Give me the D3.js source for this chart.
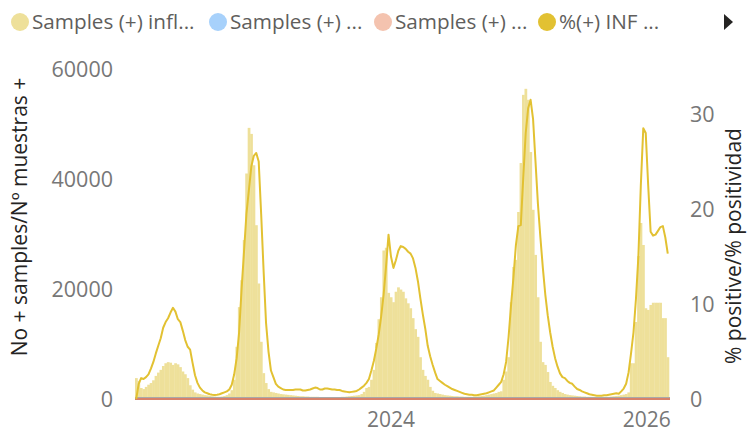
<!DOCTYPE html>
<html>
<head>
<meta charset="utf-8">
<script src="https://cdn.jsdelivr.net/npm/d3@7"></script>
<style>
  body { margin: 0; background: #fff; }
  svg text { font-family: "Open Sans", "Noto Sans", sans-serif; }
</style>
</head>
<body>
<div id="chartContainer"></div>
<script>
var width = 747;
var height = 429;

// weekly data, first week starts Mon 3 Jan 2022
var firstWeek = "2022-01-03";

// Samples (+) influenza, weekly count
var samplesInfl = [
  3800, 3300, 2000, 1800, 2200, 2600, 2900, 3400, 4200, 4800,
  5300, 6000, 6500, 6700, 6600, 6200, 6500, 6300, 5800, 5000,
  4500, 3800, 2500, 1700, 1200, 1000, 900, 800, 700, 650,
  550, 500, 450, 400, 400, 450, 550, 700, 1000, 1600,
  3500, 9500, 16700, 21600, 28900, 41000, 49300, 48200, 42500, 31600,
  21000, 10400, 4700, 2900, 1800, 1300, 1200, 1100, 1000, 900,
  850, 800, 750, 700, 650, 600, 550, 500, 500, 450,
  450, 400, 400, 400, 400, 350, 350, 350, 350, 300,
  300, 300, 350, 350, 400, 400, 450, 500, 550, 600,
  650, 700, 900, 1300, 2000, 2200, 3500, 5300, 10200, 14500,
  18500, 27000, 27500, 19300, 18500, 17600, 19500, 20300, 19900, 19500,
  18300, 17400, 16500, 14700, 12700, 11300, 7600, 5300, 4200, 3500,
  2200, 1500, 1100, 1000, 900, 800, 700, 650, 600, 550,
  500, 500, 450, 450, 400, 400, 400, 400, 450, 450,
  500, 550, 600, 700, 800, 900, 1000, 1100, 1300, 1400,
  3500, 5000, 7600, 17600, 24000, 25300, 34000, 42900, 55300, 56400,
  54400, 44900, 34400, 26200, 18500, 10400, 6700, 6200, 4900, 3100,
  2400, 2000, 1600, 1300, 1100, 900, 800, 700, 650, 600,
  550, 500, 450, 450, 400, 400, 400, 350, 350, 350,
  350, 400, 400, 400, 450, 500, 550, 600, 700, 800,
  900, 1200, 6500, 6500, 14000, 26000, 32000, 28000, 16500, 16200,
  17100, 17500, 17500, 17500, 17500, 14700, 14700, 7600
];

// %(+) INF, weekly positivity
var pctInf = [
  0, 1.6, 2.2, 2.1, 2.3, 2.6, 3.2, 3.9, 4.8, 5.6,
  6.4, 7.5, 8.1, 8.5, 9.1, 9.6, 9.2, 8.4, 8.1, 7.2,
  6.2, 5.5, 5.2, 3.8, 2.5, 1.7, 1.2, 0.9, 0.7, 0.6,
  0.5, 0.45, 0.42, 0.45, 0.5, 0.6, 0.7, 0.8, 1.0, 1.5,
  2.6, 4.3, 7.0, 11.5, 15.5, 19.5, 22.0, 24.5, 25.6, 25.9,
  25.0, 19.5, 13.5, 8.0, 5.0, 3.0, 2.3, 1.6, 1.3, 1.15,
  1.0, 0.95, 0.95, 0.95, 0.95, 1.0, 1.0, 1.0, 0.9, 0.9,
  0.95, 1.0, 1.1, 1.2, 1.15, 1.0, 1.0, 1.1, 1.1, 1.05,
  1.0, 1.0, 0.95, 0.95, 0.85, 0.8, 0.75, 0.7, 0.75, 0.8,
  0.85, 1.0, 1.2, 1.4, 1.7, 2.1, 3.0, 4.0, 5.3, 6.8,
  8.7, 11.0, 14.0, 17.3, 15.0, 13.8, 14.6, 15.6, 16.1, 16.0,
  15.8, 15.5, 15.3, 14.8, 13.8, 12.4, 10.6, 8.9, 7.4, 5.6,
  4.5, 3.6, 2.8, 2.1, 1.9, 1.7, 1.5, 1.35, 1.2, 1.05,
  0.95, 0.85, 0.75, 0.65, 0.55, 0.5, 0.45, 0.45, 0.4, 0.4,
  0.45, 0.5, 0.55, 0.6, 0.7, 0.8, 0.9, 1.2, 1.5, 1.8,
  2.6, 3.9, 6.5, 9.8, 12.8, 16.2, 18.2, 18.3, 23.3, 28.0,
  30.6, 31.5, 29.5, 25.0, 20.5, 17.0, 13.8, 11.0, 8.8, 7.0,
  5.5, 4.3, 3.4, 2.7, 2.3, 2.2, 1.9, 1.7, 1.6, 1.3,
  1.05, 0.95, 0.8, 0.7, 0.6, 0.5, 0.45, 0.4, 0.35, 0.35,
  0.35, 0.4, 0.4, 0.45, 0.5, 0.55, 0.6, 0.55, 0.8, 1.1,
  1.6, 2.8, 4.8, 7.0, 10.5, 15.0, 22.5, 28.5, 28.0, 22.5,
  17.6, 17.2, 17.3, 17.7, 18.1, 18.2, 17.0, 15.3
];

var legendNames = ["Samples (+) infl...", "Samples (+) ...", "Samples (+) ...", "%(+) INF ..."];
var legendColors = ["#EEE09A", "#A7D1FB", "#F4C3AF", "#E2C132"];

var leftTicks = [0, 20000, 40000, 60000];
var rightTicks = [0, 10, 20, 30];
var xTickYears = [2024, 2026];

var leftTitle = "No + samples/Nº muestras +";
var rightTitle = "% positive/% positividad";

var margin = {top: 69, bottom: 399, left: 135, right: 669};

var svg = d3.select('#chartContainer')
    .append('svg')
    .attr("width", width)
    .attr("height", height);

// week dates
var start = new Date(firstWeek + "T00:00:00Z");
var weeks = samplesInfl.map(function(d, i) { return d3.utcDay.offset(start, 7 * i); });

var halfWeek = 3.5 * 24 * 3600 * 1000;
var xScale = d3.scaleUtc()
    .domain([new Date(+weeks[0] - halfWeek), new Date(+weeks[weeks.length - 1] + halfWeek)])
    .range([margin.left, margin.right]);

var yLeft = d3.scaleLinear().domain([0, 60000]).range([margin.bottom, margin.top]);
var yRight = d3.scaleLinear().domain([0, 34.74]).range([margin.bottom, margin.top]);

/*** bars ***/
var barW = xScale(d3.utcDay.offset(start, 7)) - xScale(start);
svg.append('g').selectAll('rect')
    .data(samplesInfl)
    .enter().append('rect')
    .attr('x', function(d, i) { return xScale(weeks[i]) - barW / 2; })
    .attr('width', barW + 0.3)
    .attr('y', function(d) { return yLeft(d); })
    .attr('height', function(d) { return yLeft(0) - yLeft(d); })
    .attr('fill', '#EEE09A');

// other two sample series sit on zero -> baseline
svg.append('line')
    .attr('x1', margin.left).attr('x2', margin.right + 1)
    .attr('y1', yLeft(0) - 1.5).attr('y2', yLeft(0) - 1.5)
    .attr('stroke', '#A9A9A9').attr('stroke-width', 1);
svg.append('line')
    .attr('x1', margin.left).attr('x2', margin.right + 1)
    .attr('y1', yLeft(0)).attr('y2', yLeft(0))
    .attr('stroke', '#D8826A').attr('stroke-width', 2);

/*** line ***/
var lineFunc = d3.line()
    .x(function(d, i) { return xScale(weeks[i]); })
    .y(function(d) { return yRight(d); });

svg.append('path')
    .attr('d', lineFunc(pctInf))
    .attr('fill', 'none')
    .attr('stroke', '#E2C132')
    .attr('stroke-width', 2)
    .attr('stroke-linejoin', 'round');

/*** axes ***/
var tickColor = "#777777";

var leftAxis = svg.append('g');
leftAxis.selectAll('text').data(leftTicks).enter().append('text')
    .attr('x', 113)
    .attr('y', function(d) { return yLeft(d); })
    .attr('dy', '0.35em')
    .attr('text-anchor', 'end')
    .attr('font-size', 21.5)
    .attr('fill', tickColor)
    .text(function(d) { return d; });

var rightAxis = svg.append('g');
rightAxis.selectAll('text').data(rightTicks).enter().append('text')
    .attr('x', 690)
    .attr('y', function(d) { return yRight(d); })
    .attr('dy', '0.35em')
    .attr('text-anchor', 'start')
    .attr('font-size', 21.5)
    .attr('fill', tickColor)
    .text(function(d) { return d; });

var xAxis = svg.append('g');
xAxis.selectAll('text').data(xTickYears).enter().append('text')
    .attr('x', function(d) { return xScale(new Date(Date.UTC(d, 0, 1))); })
    .attr('y', 427)
    .attr('text-anchor', 'middle')
    .attr('font-size', 21)
    .attr('fill', tickColor)
    .text(function(d) { return d; });

// axis titles
svg.append('text')
    .attr('transform', 'translate(27,' + 217 + ') rotate(-90)')
    .attr('text-anchor', 'middle')
    .attr('font-size', 21)
    .attr('fill', '#252423')
    .text(leftTitle);

svg.append('text')
    .attr('transform', 'translate(741,' + 246 + ') rotate(-90)')
    .attr('text-anchor', 'middle')
    .attr('font-size', 21)
    .attr('fill', '#252423')
    .text(rightTitle);

/*** legend ***/
var legendX = [20, 218, 383, 547];
var legend = svg.append('g');
legendNames.forEach(function(name, i) {
  legend.append('circle')
    .attr('cx', legendX[i]).attr('cy', 22).attr('r', 9)
    .attr('fill', legendColors[i]);
  legend.append('text')
    .attr('x', legendX[i] + 12).attr('y', 22)
    .attr('dy', '0.35em')
    .attr('font-size', 20.7)
    .attr('fill', '#605E5C')
    .text(name);
});
legend.append('path')
    .attr('d', 'M724,14 L733,22 L724,30 Z')
    .attr('fill', '#252423');
</script>
</body>
</html>
